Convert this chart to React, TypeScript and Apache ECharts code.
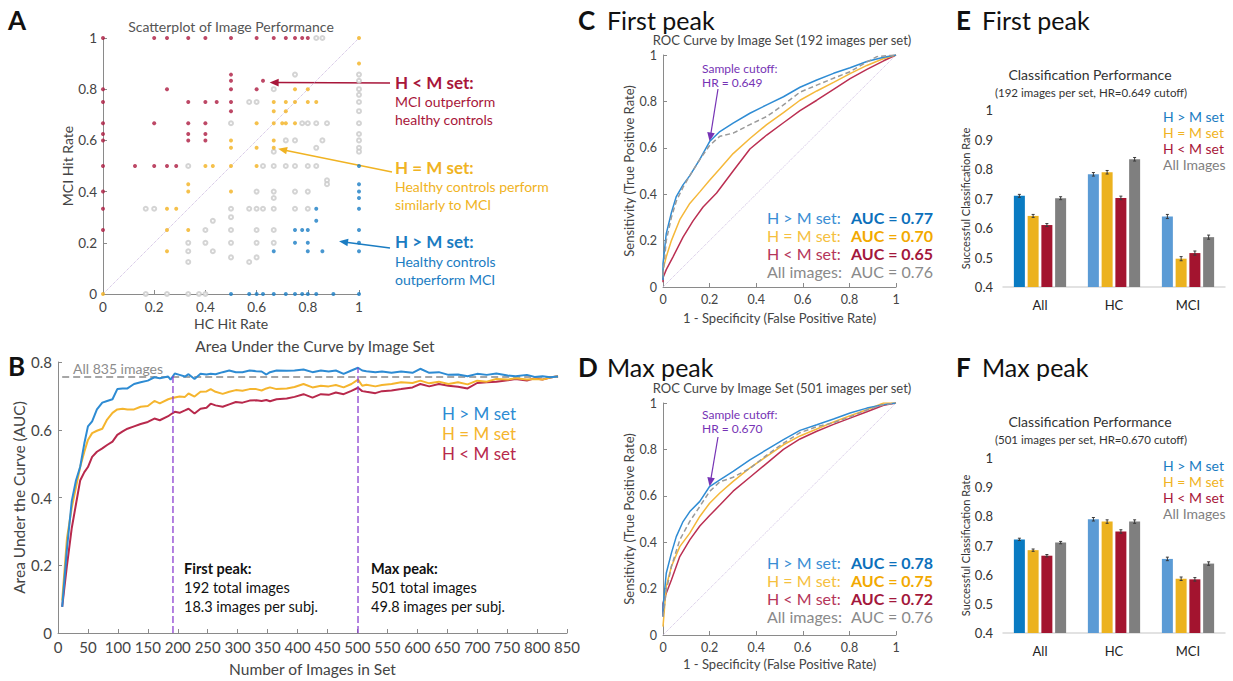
import React, { useEffect, useRef } from "react";
import * as echarts from "echarts";

const FONT = "Lato, 'Noto Sans', sans-serif";
const RED = "#ad1a40";
const YEL = "#f2b21f";
const BLU = "#1a7dc4";
const GRY = "#c9c9c9";
const PUR = "#7633b5";

// ---------- Panel A: scatter (HC hit rate, MCI hit rate) ----------
const hmLessPoints: [number, number][] = [
  [0, 1], [0.2, 1], [0.25, 1], [0.333, 1], [0.4, 1], [0.5, 1], [0.6, 1], [0.667, 1], [0.714, 1], [0.75, 1], [0.778, 1], [0.8, 1],
  [0.5, 0.857], [0.5, 0.833], [0.625, 0.833],
  [0, 0.8], [0.25, 0.8], [0.5, 0.8], [0.6, 0.8],
  [0, 0.75], [0.333, 0.75], [0.4, 0.75], [0.444, 0.75], [0.5, 0.75], [0.5, 0.714],
  [0, 0.667], [0.2, 0.667], [0.333, 0.667], [0.4, 0.667],
  [0, 0.625], [0.333, 0.625], [0.4, 0.625],
  [0, 0.6], [0.333, 0.6], [0.4, 0.6],
  [0, 0.5], [0.125, 0.5], [0.2, 0.5], [0.25, 0.5], [0.286, 0.5],
  [0, 0.4], [0, 0.333], [0, 0.25],
];
const hmEqualPoints: [number, number][] = [
  [0, 0], [1, 1], [1, 0.9],
  [0.75, 0.8], [0.8, 0.8],
  [0.667, 0.75], [0.714, 0.75], [0.75, 0.75], [0.8, 0.75], [0.833, 0.75],
  [0.667, 0.714], [0.714, 0.714],
  [0.6, 0.667], [0.667, 0.667], [0.7, 0.667], [0.714, 0.667], [0.75, 0.667],
  [0.5, 0.6], [0.667, 0.6],
  [0.5, 0.571], [0.6, 0.571], [0.667, 0.571],
  [0.4, 0.5], [0.429, 0.5], [0.5, 0.5], [0.6, 0.5],
  [0.333, 0.429], [0.333, 0.4], [0.5, 0.4],
  [0.25, 0.333], [0.286, 0.333],
  [0.25, 0.25], [0.333, 0.25], [0.25, 0.167],
];
const hmGreaterPoints: [number, number][] = [
  [1, 0.5], [1, 0.429], [1, 0.4], [1, 0.375], [1, 0.333], [1, 0.25], [1, 0.2], [1, 0.167], [1, 0],
  [0.833, 0.333], [0.833, 0.286],
  [0.75, 0.25], [0.778, 0.25], [0.8, 0.25],
  [0.75, 0.2], [0.8, 0.2],
  [0.667, 0.167], [0.8, 0.167], [0.857, 0.167],
  [0.5, 0], [0.571, 0], [0.6, 0], [0.625, 0], [0.667, 0], [0.714, 0], [0.75, 0], [0.778, 0], [0.8, 0], [0.833, 0], [0.9, 0],
];
const otherPoints: [number, number][] = [
  [0.833, 1], [0.857, 1],
  [0.75, 0.857], [1, 0.857], [1, 0.833], [1, 0.8], [1, 0.778], [1, 0.75], [1, 0.714], [1, 0.667], [1, 0.625], [1, 0.6], [1, 0.571], [1, 0.556],
  [0.667, 0.8], [0.571, 0.75], [0.6, 0.75],
  [0.5, 0.667], [0.778, 0.667], [0.8, 0.667], [0.833, 0.667], [0.875, 0.667],
  [0.714, 0.6], [0.75, 0.6], [0.857, 0.6], [0.833, 0.571], [0.667, 0.556],
  [0.333, 0.5], [0.625, 0.5], [0.667, 0.5], [0.714, 0.5], [0.75, 0.5], [0.8, 0.5], [0.833, 0.5],
  [0.875, 0.444], [0.875, 0.429],
  [0.6, 0.4], [0.667, 0.4], [0.75, 0.4], [0.8, 0.4], [0.667, 0.375],
  [0.167, 0.333], [0.2, 0.333], [0.5, 0.333], [0.571, 0.333], [0.6, 0.333], [0.625, 0.333], [0.667, 0.333], [0.75, 0.333], [0.8, 0.333],
  [0.5, 0.3], [0.429, 0.286],
  [0.4, 0.25], [0.5, 0.25], [0.6, 0.25], [0.667, 0.25],
  [0.333, 0.2], [0.4, 0.2], [0.5, 0.2], [0.6, 0.2], [0.667, 0.2],
  [0.333, 0.167], [0.429, 0.167], [0.5, 0.143], [0.6, 0.143], [0.333, 0.125], [0.571, 0.125],
  [0.167, 0], [0.25, 0], [0.333, 0], [0.375, 0], [0.4, 0],
];
const identityLine: [number, number][] = [[0, 0], [1, 1]];
const arrowTargetsA: [number, number][] = [[0.651, 0.826], [0.684, 0.567], [0.922, 0.206]];

// ---------- Panel B: AUC by set size ----------
const setSizes = [7, 15, 23, 30, 37, 44, 50, 57, 65, 74, 82, 91, 99, 108, 116, 127, 138, 150, 161, 170, 184, 188, 195, 203, 212, 218, 228, 238, 248, 255, 263, 275, 286, 297, 308, 320, 331, 340, 348, 354, 365, 382, 395, 410, 425, 439, 452, 464, 477, 490, 501, 508, 515, 530, 541, 557, 573, 592, 605, 620, 636, 652, 668, 684, 700, 716, 732, 751, 764, 783, 796, 809, 822, 835];
const aucGreater = [0.077, 0.25, 0.39, 0.45, 0.49, 0.56, 0.61, 0.625, 0.66, 0.68, 0.685, 0.69, 0.72, 0.722, 0.722, 0.735, 0.74, 0.745, 0.755, 0.752, 0.757, 0.748, 0.766, 0.762, 0.757, 0.764, 0.75, 0.765, 0.763, 0.765, 0.764, 0.77, 0.775, 0.77, 0.77, 0.775, 0.773, 0.772, 0.763, 0.77, 0.775, 0.774, 0.775, 0.778, 0.77, 0.775, 0.772, 0.775, 0.765, 0.775, 0.783, 0.775, 0.773, 0.77, 0.772, 0.768, 0.772, 0.768, 0.78, 0.768, 0.77, 0.762, 0.763, 0.758, 0.765, 0.762, 0.766, 0.76, 0.758, 0.762, 0.756, 0.758, 0.755, 0.757];
const aucEqual = [0.096, 0.28, 0.37, 0.43, 0.49, 0.535, 0.57, 0.59, 0.597, 0.603, 0.63, 0.65, 0.66, 0.662, 0.66, 0.66, 0.668, 0.67, 0.685, 0.678, 0.69, 0.692, 0.695, 0.698, 0.697, 0.707, 0.698, 0.712, 0.713, 0.72, 0.712, 0.706, 0.712, 0.717, 0.715, 0.72, 0.72, 0.716, 0.722, 0.725, 0.72, 0.722, 0.726, 0.735, 0.725, 0.73, 0.728, 0.732, 0.725, 0.735, 0.748, 0.73, 0.733, 0.728, 0.732, 0.735, 0.74, 0.738, 0.745, 0.737, 0.742, 0.735, 0.74, 0.734, 0.745, 0.742, 0.75, 0.748, 0.752, 0.748, 0.75, 0.748, 0.754, 0.758];
const aucLess = [0.077, 0.2, 0.31, 0.38, 0.45, 0.475, 0.49, 0.52, 0.535, 0.545, 0.555, 0.565, 0.585, 0.595, 0.603, 0.61, 0.617, 0.623, 0.633, 0.628, 0.64, 0.645, 0.653, 0.65, 0.657, 0.662, 0.648, 0.662, 0.665, 0.677, 0.672, 0.668, 0.675, 0.682, 0.68, 0.686, 0.687, 0.685, 0.688, 0.684, 0.69, 0.692, 0.697, 0.705, 0.695, 0.705, 0.703, 0.71, 0.705, 0.715, 0.724, 0.714, 0.712, 0.708, 0.714, 0.716, 0.72, 0.725, 0.735, 0.728, 0.735, 0.73, 0.727, 0.722, 0.738, 0.74, 0.742, 0.746, 0.75, 0.745, 0.752, 0.748, 0.754, 0.758];
const aucAllImages: [number, number][] = [[7, 0.756], [835, 0.756]];
const peakSizes = [192, 501];
const peakTops = [0.766, 0.783];

// ---------- Panels C/D: ROC curves ----------
const rocCGreater: [number, number][] = [[0, 0.03], [0, 0.1], [0.014, 0.23], [0.036, 0.32], [0.057, 0.39], [0.086, 0.44], [0.115, 0.48], [0.158, 0.55], [0.2, 0.627], [0.244, 0.67], [0.301, 0.706], [0.373, 0.749], [0.445, 0.785], [0.517, 0.82], [0.588, 0.861], [0.66, 0.892], [0.732, 0.921], [0.803, 0.945], [0.875, 0.972], [0.947, 0.99], [1, 1]];
const rocCEqual: [number, number][] = [[0, 0.04], [0, 0.075], [0.014, 0.13], [0.036, 0.2], [0.072, 0.29], [0.115, 0.36], [0.158, 0.41], [0.2, 0.46], [0.244, 0.51], [0.301, 0.575], [0.373, 0.64], [0.445, 0.7], [0.517, 0.752], [0.588, 0.805], [0.66, 0.845], [0.732, 0.882], [0.803, 0.92], [0.875, 0.955], [0.947, 0.985], [1, 1]];
const rocCLess: [number, number][] = [[0, 0.02], [0, 0.04], [0.014, 0.075], [0.043, 0.13], [0.086, 0.215], [0.129, 0.285], [0.172, 0.345], [0.23, 0.405], [0.301, 0.5], [0.373, 0.595], [0.445, 0.655], [0.517, 0.708], [0.588, 0.76], [0.66, 0.805], [0.732, 0.852], [0.803, 0.898], [0.875, 0.938], [0.947, 0.975], [1, 1]];
const rocCAll: [number, number][] = [[0, 0.05], [0.014, 0.2], [0.036, 0.3], [0.057, 0.37], [0.086, 0.43], [0.115, 0.48], [0.158, 0.55], [0.2, 0.61], [0.244, 0.65], [0.301, 0.663], [0.373, 0.7], [0.445, 0.735], [0.517, 0.785], [0.588, 0.84], [0.66, 0.87], [0.732, 0.9], [0.803, 0.928], [0.875, 0.97], [0.918, 0.993], [1, 1]];
const rocDGreater: [number, number][] = [[0, 0.08], [0, 0.12], [0.014, 0.266], [0.036, 0.353], [0.057, 0.424], [0.086, 0.489], [0.115, 0.532], [0.158, 0.576], [0.2, 0.64], [0.244, 0.669], [0.301, 0.705], [0.373, 0.755], [0.445, 0.799], [0.517, 0.842], [0.588, 0.882], [0.66, 0.906], [0.732, 0.931], [0.803, 0.957], [0.875, 0.978], [0.947, 0.993], [1, 1]];
const rocDEqual: [number, number][] = [[0, 0.036], [0.014, 0.209], [0.036, 0.295], [0.072, 0.381], [0.115, 0.439], [0.158, 0.511], [0.2, 0.568], [0.244, 0.612], [0.301, 0.662], [0.373, 0.72], [0.445, 0.77], [0.517, 0.82], [0.588, 0.858], [0.66, 0.888], [0.732, 0.918], [0.803, 0.945], [0.875, 0.971], [0.947, 1], [1, 1]];
const rocDLess: [number, number][] = [[0, 0.08], [0, 0.137], [0.014, 0.18], [0.036, 0.237], [0.072, 0.338], [0.115, 0.41], [0.158, 0.47], [0.2, 0.515], [0.244, 0.56], [0.301, 0.62], [0.373, 0.68], [0.445, 0.74], [0.517, 0.8], [0.588, 0.845], [0.66, 0.878], [0.732, 0.908], [0.803, 0.935], [0.875, 0.962], [0.947, 0.99], [1, 1]];
const rocDAll: [number, number][] = [[0, 0.08], [0.014, 0.19], [0.036, 0.295], [0.072, 0.41], [0.115, 0.49], [0.158, 0.554], [0.2, 0.619], [0.244, 0.66], [0.301, 0.68], [0.373, 0.718], [0.445, 0.775], [0.517, 0.827], [0.588, 0.872], [0.66, 0.898], [0.732, 0.915], [0.803, 0.94], [0.875, 0.97], [0.947, 0.993], [1, 1]];
const cutoffC: [number, number] = [0.2, 0.627];
const cutoffD: [number, number] = [0.2, 0.64];
const aucRowsC = [
  ["H > M set:", "AUC = 0.77"], ["H = M set:", "AUC = 0.70"], ["H < M set:", "AUC = 0.65"], ["All images:", "AUC = 0.76"],
];
const aucRowsD = [
  ["H > M set:", "AUC = 0.78"], ["H = M set:", "AUC = 0.75"], ["H < M set:", "AUC = 0.72"], ["All images:", "AUC = 0.76"],
];

// ---------- Panels E/F: classification bars ----------
const groups = ["All", "HC", "MCI"];
const setNames = ["H > M set", "H = M set", "H < M set", "All Images"];
const eGreater = [0.709, 0.782, 0.639];
const eEqual = [0.641, 0.789, 0.496];
const eLess = [0.61, 0.702, 0.515];
const eAll = [0.701, 0.833, 0.569];
const fGreater = [0.721, 0.79, 0.654];
const fEqual = [0.684, 0.782, 0.586];
const fLess = [0.665, 0.748, 0.584];
const fAll = [0.71, 0.782, 0.638];
const eErr = [0.005, 0.006, 0.007];
const fErr = [0.004, 0.006, 0.006];
const yTicksBar = [0.4, 0.5, 0.6, 0.7, 0.8, 0.9, 1];

const BAR_W = 11;
const BAR_COLORS = ["#5b9bd5", "#ecb21f", "#a3142f", "#7f7f7f"];
const BAR_ALL_BLUE = "#0a7bc2";

function fmt(v: number) {
  return String(Math.round(v * 100) / 100);
}

function valAxis(gridIndex: number, min: number, max: number, interval: number, fontSize: number, name: string, nameGap: number, nameSize: number) {
  return {
    type: "value", gridIndex, min, max, interval,
    axisLine: { show: true, onZero: false, lineStyle: { color: "#8a8a8a", width: 1 } },
    axisTick: { show: true, inside: true, length: 4, lineStyle: { color: "#8a8a8a" } },
    axisLabel: { color: "#444", fontSize, fontFamily: FONT, formatter: fmt, margin: 6 },
    splitLine: { show: false },
    name, nameLocation: "middle", nameGap,
    nameTextStyle: { color: "#444", fontSize: nameSize, fontFamily: FONT },
  };
}

function txt(x: number, y: number, text: string, size: number, color: string, opts: any = {}) {
  return {
    type: "text", x, y, silent: true,
    style: {
      text, fill: color, fontSize: size, fontFamily: FONT,
      fontWeight: opts.bold ? "bold" : "normal",
      textAlign: opts.align || "left", textVerticalAlign: "middle",
    },
  };
}

function arrow(tail: number[], head: number[], color: string, width = 1.5) {
  const dx = head[0] - tail[0], dy = head[1] - tail[1];
  const len = Math.sqrt(dx * dx + dy * dy) || 1;
  const ux = dx / len, uy = dy / len;
  const L = 9, W = 3.8;
  const bx = head[0] - ux * L, by = head[1] - uy * L;
  return {
    type: "group", silent: true,
    children: [
      { type: "line", shape: { x1: tail[0], y1: tail[1], x2: bx + ux * 2, y2: by + uy * 2 }, style: { stroke: color, lineWidth: width } },
      { type: "polygon", shape: { points: [[head[0], head[1]], [bx - uy * W, by + ux * W], [bx + uy * W, by - ux * W]] }, style: { fill: color } },
    ],
  };
}

function lineSeries(xi: number, data: any, color: string, width: number, type: any = "solid", z = 3) {
  return {
    type: "line", xAxisIndex: xi, yAxisIndex: xi, data, showSymbol: false, symbol: "none",
    silent: true, z, lineStyle: { color, width, type },
  };
}

function barSeries(gi: number, values: number[], idx: number) {
  return {
    type: "bar", xAxisIndex: gi, yAxisIndex: gi, barWidth: BAR_W, barGap: "25%",
    silent: true,
    data: values.map((v, i) => ({
      value: v,
      itemStyle: { color: idx === 0 && i === 0 ? BAR_ALL_BLUE : BAR_COLORS[idx] },
    })),
  };
}

function errSeries(gi: number, values: number[], errs: number[], idx: number) {
  return {
    type: "custom", xAxisIndex: gi, yAxisIndex: gi, silent: true, z: 5,
    encode: { x: 0, y: 1 },
    data: values.map((v, i) => [i, v, errs[i]]),
    renderItem: (_p: any, api: any) => {
      const c = api.value(0), v = api.value(1), e = api.value(2);
      const base = api.coord([c, v]);
      const x = base[0] + (idx - 1.5) * BAR_W * 1.25;
      const top = api.coord([c, v + e])[1];
      const bot = api.coord([c, v - e])[1];
      const st = { stroke: "#3a3a3a", lineWidth: 1 };
      return {
        type: "group",
        children: [
          { type: "line", shape: { x1: x, y1: top, x2: x, y2: bot }, style: st },
          { type: "line", shape: { x1: x - 1.5, y1: top, x2: x + 1.5, y2: top }, style: st },
          { type: "line", shape: { x1: x - 1.5, y1: bot, x2: x + 1.5, y2: bot }, style: st },
        ],
      };
    },
  };
}

function barAxes(gi: number) {
  return {
    x: {
      type: "category", gridIndex: gi, data: groups,
      axisLine: { show: true, lineStyle: { color: "#d9d9d9", width: 1.5 } },
      axisTick: { show: false },
      axisLabel: { color: "#222", fontSize: 13, fontFamily: FONT, margin: 11 },
    },
    y: {
      type: "value", gridIndex: gi, min: yTicksBar[0], max: yTicksBar[yTicksBar.length - 1], interval: 0.1,
      axisLine: { show: false }, axisTick: { show: false }, splitLine: { show: false },
      axisLabel: { color: "#333", fontSize: 13, fontFamily: FONT, formatter: (v: number) => (v === 1 ? "1" : v.toFixed(1)), margin: 10 },
      name: "Successful Classification Rate", nameLocation: "middle", nameGap: 31,
      nameTextStyle: { color: "#333", fontSize: 11, fontFamily: FONT },
    },
  };
}

export default function App() {
  const ref = useRef<HTMLDivElement>(null);
  useEffect(() => {
    if (!ref.current) return;
    const chart = echarts.init(ref.current, undefined, { renderer: "svg" });
    const bE = barAxes(4), bF = barAxes(5);

    const xAxes = [
      valAxis(0, 0, 1, 0.2, 13.5, "HC Hit Rate", 22, 14),
      valAxis(1, 0, 850, 50, 15, "Number of Images in Set", 28, 15.5),
      valAxis(2, 0, 1, 0.2, 12.5, "1 - Specificity (False Positive Rate)", 24, 13),
      valAxis(3, 0, 1, 0.2, 12.5, "1 - Specificity (False Positive Rate)", 22, 13),
      bE.x, bF.x,
    ];
    const yAxes = [
      valAxis(0, 0, 1, 0.2, 13.5, "MCI Hit Rate", 29, 14),
      valAxis(1, 0, 0.8, 0.2, 15, "Area Under the Curve (AUC)", 30, 15.5),
      valAxis(2, 0, 1, 0.2, 12.5, "Sensitivity (True Positive Rate)", 24, 13),
      valAxis(3, 0, 1, 0.2, 12.5, "Sensitivity (True Positive Rate)", 24, 13),
      bE.y, bF.y,
    ];

    const pts = (xs: number[], ys: number[]) => xs.map((x, i) => [x, ys[i]]);

    const series: any[] = [
      lineSeries(0, identityLine, "#c9b6de", 1, "dotted", 1),
      { type: "scatter", xAxisIndex: 0, yAxisIndex: 0, data: otherPoints, symbol: "emptyCircle", symbolSize: 4, silent: true, itemStyle: { color: GRY, borderWidth: 1 }, z: 2 },
      { type: "scatter", xAxisIndex: 0, yAxisIndex: 0, data: hmLessPoints, symbol: "circle", symbolSize: 4, silent: true, itemStyle: { color: RED }, z: 3 },
      { type: "scatter", xAxisIndex: 0, yAxisIndex: 0, data: hmEqualPoints, symbol: "circle", symbolSize: 4, silent: true, itemStyle: { color: YEL }, z: 3 },
      { type: "scatter", xAxisIndex: 0, yAxisIndex: 0, data: hmGreaterPoints, symbol: "circle", symbolSize: 4, silent: true, itemStyle: { color: BLU }, z: 3 },

      lineSeries(1, aucAllImages, "#a6a6a6", 2, [7, 4], 2),
      lineSeries(1, pts(setSizes, aucLess), "#b8294c", 2),
      lineSeries(1, pts(setSizes, aucEqual), "#f5b52e", 2),
      lineSeries(1, pts(setSizes, aucGreater), "#2d8bd3", 2),
      ...peakSizes.map((x, i) => lineSeries(1, [[x, 0], [x, peakTops[i]]], "#8b3fd0", 1.3, [7, 3], 4)),

      lineSeries(2, identityLine, "#cdbde0", 1, "dotted", 1),
      lineSeries(2, rocCLess, "#bb2f52", 1.5),
      lineSeries(2, rocCEqual, "#f5b83a", 1.5),
      lineSeries(2, rocCGreater, "#2f8cd4", 1.5),
      lineSeries(2, rocCAll, "#9a9a9a", 1.5, [5, 3], 4),

      lineSeries(3, identityLine, "#cdbde0", 1, "dotted", 1),
      lineSeries(3, rocDLess, "#bb2f52", 1.5),
      lineSeries(3, rocDEqual, "#f5b83a", 1.5),
      lineSeries(3, rocDGreater, "#2f8cd4", 1.5),
      lineSeries(3, rocDAll, "#9a9a9a", 1.5, [5, 3], 4),

      barSeries(4, eGreater, 0), barSeries(4, eEqual, 1), barSeries(4, eLess, 2), barSeries(4, eAll, 3),
      errSeries(4, eGreater, eErr, 0), errSeries(4, eEqual, eErr, 1), errSeries(4, eLess, eErr, 2), errSeries(4, eAll, eErr, 3),
      barSeries(5, fGreater, 0), barSeries(5, fEqual, 1), barSeries(5, fLess, 2), barSeries(5, fAll, 3),
      errSeries(5, fGreater, fErr, 0), errSeries(5, fEqual, fErr, 1), errSeries(5, fLess, fErr, 2), errSeries(5, fAll, fErr, 3),
    ];

    const legendColors = ["#1a7cc2", "#f0b323", "#a8163a", "#7f7f7f"];
    const aucLabelColors = ["#3a8ed4", "#f5c03f", "#b5365a", "#8a8a8a"];
    const aucValueColors = ["#0b70bb", "#f2a900", "#a3173b", "#8a8a8a"];

    const texts: any[] = [
      // panel letters and headings
      txt(8, 20, "A", 26, "#111", { bold: true }),
      txt(8, 366, "B", 26, "#111", { bold: true }),
      txt(578, 20, "C", 26, "#111", { bold: true }),
      txt(578, 367, "D", 26, "#111", { bold: true }),
      txt(956, 20, "E", 26, "#111", { bold: true }),
      txt(956, 367, "F", 26, "#111", { bold: true }),
      txt(607, 20, "First peak", 25, "#111"),
      txt(607, 367, "Max peak", 25, "#111"),
      txt(982, 20, "First peak", 25, "#111"),
      txt(982, 367, "Max peak", 25, "#111"),
      // titles
      txt(231, 26, "Scatterplot of Image Performance", 14, "#555", { align: "center" }),
      txt(315, 346, "Area Under the Curve by Image Set", 15.5, "#444", { align: "center" }),
      txt(782, 39.5, "ROC Curve by Image Set (192 images per set)", 13, "#444", { align: "center" }),
      txt(782, 388, "ROC Curve by Image Set (501 images per set)", 13, "#444", { align: "center" }),
      txt(1090, 74, "Classification Performance", 14, "#333", { align: "center" }),
      txt(1091, 92, "(192 images per set, HR=0.649 cutoff)", 11.5, "#333", { align: "center" }),
      txt(1090, 421, "Classification Performance", 14, "#333", { align: "center" }),
      txt(1091, 439, "(501 images per set, HR=0.670 cutoff)", 11.5, "#333", { align: "center" }),
      // panel A notes
      txt(395, 82, "H < M set:", 17, "#a8163a", { bold: true }),
      txt(395, 101, "MCI outperform", 14, "#a8163a"),
      txt(395, 119, "healthy controls", 14, "#a8163a"),
      txt(395, 167, "H = M set:", 17, "#f0b323", { bold: true }),
      txt(395, 186, "Healthy controls perform", 14, "#f0b323"),
      txt(395, 204, "similarly to MCI", 14, "#f0b323"),
      txt(395, 241, "H > M set:", 17, "#1a7cc2", { bold: true }),
      txt(395, 261, "Healthy controls", 14, "#1a7cc2"),
      txt(395, 279, "outperform MCI", 14, "#1a7cc2"),
      // panel B notes
      txt(73, 368, "All 835 images", 14, "#8c8c8c"),
      txt(442, 413, "H > M set", 17, "#2d8bd3"),
      txt(442, 433, "H = M set", 17, "#f5b52e"),
      txt(442, 453, "H < M set", 17, "#b8294c"),
      txt(184, 568, "First peak:", 14.5, "#111", { bold: true }),
      txt(184, 587, "192 total images", 14.5, "#111"),
      txt(184, 606, "18.3 images per subj.", 14.5, "#111"),
      txt(371, 568, "Max peak:", 14.5, "#111", { bold: true }),
      txt(371, 587, "501 total images", 14.5, "#111"),
      txt(371, 606, "49.8 images per subj.", 14.5, "#111"),
      // panel C/D notes
      txt(702, 68, "Sample cutoff:", 12, PUR),
      txt(702, 82, "HR = 0.649", 12, PUR),
      txt(702, 414, "Sample cutoff:", 12, PUR),
      txt(702, 428, "HR = 0.670", 12, PUR),
      ...aucRowsC.flatMap((r, i) => [
        txt(767, 217 + i * 18, r[0], 16, aucLabelColors[i]),
        txt(851, 217 + i * 18, r[1], 16, aucValueColors[i], { bold: i < 3 }),
      ]),
      ...aucRowsD.flatMap((r, i) => [
        txt(767, 562 + i * 18.3, r[0], 16, aucLabelColors[i]),
        txt(851, 562 + i * 18.3, r[1], 16, aucValueColors[i], { bold: i < 3 }),
      ]),
      // panel E/F legends
      ...setNames.map((n, i) => txt(1163, 116 + i * 16.2, n, 14, legendColors[i])),
      ...setNames.map((n, i) => txt(1163, 465 + i * 16.2, n, 14, legendColors[i])),
    ];

    const option: any = {
      animation: false,
      backgroundColor: "#ffffff",
      textStyle: { fontFamily: FONT },
      grid: [
        { left: 103, top: 38, width: 256, height: 256 },
        { left: 58, top: 362, width: 509, height: 271 },
        { left: 663, top: 55, width: 233, height: 232 },
        { left: 663, top: 403, width: 233, height: 232 },
        { left: 1003, top: 110, width: 222, height: 177 },
        { left: 1003, top: 458, width: 222, height: 175 },
      ],
      xAxis: xAxes,
      yAxis: yAxes,
      series,
      graphic: texts,
    };
    chart.setOption(option);

    const px = (gi: number, p: number[]) => chart.convertToPixel({ gridIndex: gi } as any, p) as number[];
    const arrowsA = [
      arrow([390, 83], px(0, arrowTargetsA[0]), "#a8163a"),
      arrow([392, 172], px(0, arrowTargetsA[1]), "#f0b323"),
      arrow([390, 248], px(0, arrowTargetsA[2]), "#1a7cc2"),
      arrow([718, 89], px(2, cutoffC), PUR, 1.2),
      arrow([718, 437], px(3, cutoffD), PUR, 1.2),
    ];
    chart.setOption({ ...option, graphic: [...texts, ...arrowsA] }, true);

    return () => chart.dispose();
  }, []);

  return (
    <div
      ref={ref}
      style={{ position: "absolute", left: 0, top: 0, width: 1233, height: 681, background: "#fff" }}
    />
  );
}
